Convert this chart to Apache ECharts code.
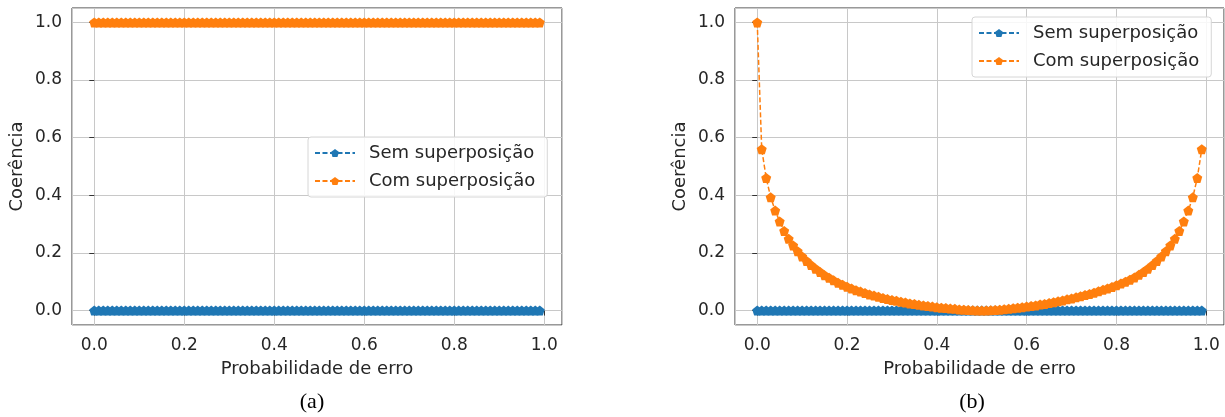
<!DOCTYPE html>
<html>
<head>
<meta charset="utf-8">
<script src="https://cdn.jsdelivr.net/npm/echarts@6/dist/echarts.min.js"></script>
<style>
  html, body { margin: 0; padding: 0; background: #fff; }
  #chart { width: 1225px; height: 417px; }
</style>
</head>
<body>
<div id="chart"></div>
<script>
// probabilidade de erro (eixo x), mesmo para (a) e (b)
const errorProb = [
  0.00, 0.01, 0.02, 0.03, 0.04, 0.05, 0.06, 0.07, 0.08, 0.09,
  0.10, 0.11, 0.12, 0.13, 0.14, 0.15, 0.16, 0.17, 0.18, 0.19,
  0.20, 0.21, 0.22, 0.23, 0.24, 0.25, 0.26, 0.27, 0.28, 0.29,
  0.30, 0.31, 0.32, 0.33, 0.34, 0.35, 0.36, 0.37, 0.38, 0.39,
  0.40, 0.41, 0.42, 0.43, 0.44, 0.45, 0.46, 0.47, 0.48, 0.49,
  0.50, 0.51, 0.52, 0.53, 0.54, 0.55, 0.56, 0.57, 0.58, 0.59,
  0.60, 0.61, 0.62, 0.63, 0.64, 0.65, 0.66, 0.67, 0.68, 0.69,
  0.70, 0.71, 0.72, 0.73, 0.74, 0.75, 0.76, 0.77, 0.78, 0.79,
  0.80, 0.81, 0.82, 0.83, 0.84, 0.85, 0.86, 0.87, 0.88, 0.89,
  0.90, 0.91, 0.92, 0.93, 0.94, 0.95, 0.96, 0.97, 0.98, 0.99
];

// (a)
const semSuperposA = [
  0, 0, 0, 0, 0, 0, 0, 0, 0, 0, 0, 0, 0, 0, 0, 0, 0, 0, 0, 0,
  0, 0, 0, 0, 0, 0, 0, 0, 0, 0, 0, 0, 0, 0, 0, 0, 0, 0, 0, 0,
  0, 0, 0, 0, 0, 0, 0, 0, 0, 0, 0, 0, 0, 0, 0, 0, 0, 0, 0, 0,
  0, 0, 0, 0, 0, 0, 0, 0, 0, 0, 0, 0, 0, 0, 0, 0, 0, 0, 0, 0,
  0, 0, 0, 0, 0, 0, 0, 0, 0, 0, 0, 0, 0, 0, 0, 0, 0, 0, 0, 0
];
const comSuperposA = [
  1, 1, 1, 1, 1, 1, 1, 1, 1, 1, 1, 1, 1, 1, 1, 1, 1, 1, 1, 1,
  1, 1, 1, 1, 1, 1, 1, 1, 1, 1, 1, 1, 1, 1, 1, 1, 1, 1, 1, 1,
  1, 1, 1, 1, 1, 1, 1, 1, 1, 1, 1, 1, 1, 1, 1, 1, 1, 1, 1, 1,
  1, 1, 1, 1, 1, 1, 1, 1, 1, 1, 1, 1, 1, 1, 1, 1, 1, 1, 1, 1,
  1, 1, 1, 1, 1, 1, 1, 1, 1, 1, 1, 1, 1, 1, 1, 1, 1, 1, 1, 1
];

// (b)
const semSuperposB = [
  0, 0, 0, 0, 0, 0, 0, 0, 0, 0, 0, 0, 0, 0, 0, 0, 0, 0, 0, 0,
  0, 0, 0, 0, 0, 0, 0, 0, 0, 0, 0, 0, 0, 0, 0, 0, 0, 0, 0, 0,
  0, 0, 0, 0, 0, 0, 0, 0, 0, 0, 0, 0, 0, 0, 0, 0, 0, 0, 0, 0,
  0, 0, 0, 0, 0, 0, 0, 0, 0, 0, 0, 0, 0, 0, 0, 0, 0, 0, 0, 0,
  0, 0, 0, 0, 0, 0, 0, 0, 0, 0, 0, 0, 0, 0, 0, 0, 0, 0, 0, 0
];
const comSuperposB = [
  1.0, 0.56, 0.46, 0.393, 0.347, 0.309, 0.276, 0.249, 0.226, 0.206,
  0.188, 0.172, 0.158, 0.145, 0.134, 0.123, 0.114, 0.105, 0.097, 0.090,
  0.083, 0.077, 0.071, 0.066, 0.061, 0.056, 0.052, 0.048, 0.044, 0.040,
  0.037, 0.034, 0.031, 0.028, 0.025, 0.023, 0.020, 0.018, 0.016, 0.014,
  0.012, 0.010, 0.009, 0.007, 0.006, 0.004, 0.003, 0.002, 0.001, 0.0005,
  0.0, 0.0005, 0.001, 0.002, 0.003, 0.005, 0.006, 0.008, 0.010, 0.012,
  0.014, 0.016, 0.018, 0.021, 0.023, 0.026, 0.029, 0.032, 0.035, 0.039,
  0.042, 0.046, 0.050, 0.054, 0.058, 0.062, 0.067, 0.072, 0.077, 0.082,
  0.088, 0.094, 0.100, 0.107, 0.115, 0.124, 0.134, 0.145, 0.158, 0.172,
  0.188, 0.206, 0.226, 0.249, 0.276, 0.309, 0.347, 0.393, 0.46, 0.56
];

const tickLabels = ["0.0", "0.2", "0.4", "0.6", "0.8", "1.0"];
const seriesNames = ["Sem superposição", "Com superposição"];
const captions = ["(a)", "(b)"];

const BLUE = "#1f77b4";
const ORANGE = "#ff7f0e";
const TEXT = "#262626";
const FONT = "DejaVu Sans";
const PENTAGON = "path://M50,0 L97.55,34.55 L79.39,90.45 L20.61,90.45 L2.45,34.55 Z";

function pairs(ys) {
  return errorProb.map((x, i) => [x, ys[i]]);
}

function tickFmt(v) {
  const s = v.toFixed(1);
  if (Math.abs(v * 5 - Math.round(v * 5)) > 1e-6) return "";
  return tickLabels.indexOf(s) >= 0 ? s : "";
}

function makeAxis(idx, isX) {
  return {
    type: "value",
    gridIndex: idx,
    min: isX ? -0.0495 : -0.05,
    max: isX ? 1.0395 : 1.05,
    splitNumber: 5,
    name: isX ? "Probabilidade de erro" : "Coerência",
    nameLocation: "middle",
    nameGap: isX ? 35 : 46,
    nameTextStyle: { fontFamily: FONT, fontSize: 18, color: TEXT },
    axisLine: { show: false },
    axisTick: { show: true, inside: false, length: 5, lineStyle: { color: "#333", width: 1 } },
    axisLabel: {
      showMinLabel: false,
      showMaxLabel: false,
      margin: isX ? 12 : 10,
      fontFamily: FONT,
      fontSize: 17,
      color: TEXT,
      formatter: tickFmt
    },
    splitLine: { show: true, lineStyle: { color: "#c8c8c8", width: 1 } }
  };
}

function lineSeries(name, idx, ys, color, z) {
  return {
    name: name,
    type: "line",
    xAxisIndex: idx,
    yAxisIndex: idx,
    data: pairs(ys),
    symbol: PENTAGON,
    symbolSize: 10,
    showSymbol: true,
    z: z,
    lineStyle: { color: color, width: 1.5, type: [5, 2.5] },
    itemStyle: { color: color },
    emphasis: { disabled: true }
  };
}

function legendAt(left, top) {
  return {
    data: seriesNames,
    orient: "vertical",
    left: left,
    top: top,
    padding: [7, 12, 7, 6],
    itemGap: 10,
    itemWidth: 40,
    itemHeight: 10,
    backgroundColor: "rgba(255,255,255,0.85)",
    borderColor: "#d6d6d6",
    borderWidth: 1,
    borderRadius: 3,
    selectedMode: false,
    textStyle: { fontFamily: FONT, fontSize: 18, color: TEXT, padding: [0, 0, 0, 9] }
  };
}

const chart = echarts.init(document.getElementById("chart"), null, { renderer: "canvas" });

const option = {
  animation: false,
  backgroundColor: "#fff",
  grid: [
    { left: 72, top: 8, width: 490, height: 317, show: true, borderColor: "#333", borderWidth: 1, backgroundColor: "transparent" },
    { left: 735, top: 8, width: 489, height: 317, show: true, borderColor: "#333", borderWidth: 1, backgroundColor: "transparent" }
  ],
  xAxis: [makeAxis(0, true), makeAxis(1, true)],
  yAxis: [makeAxis(0, false), makeAxis(1, false)],
  legend: [legendAt(308, 137), legendAt(972, 17)],
  graphic: [
    { type: "text", x: 312, y: 402, style: { text: captions[0], align: "center", verticalAlign: "middle", font: "22px 'Liberation Serif'", fill: "#000" } },
    { type: "text", x: 972, y: 402, style: { text: captions[1], align: "center", verticalAlign: "middle", font: "22px 'Liberation Serif'", fill: "#000" } }
  ],
  series: [
    lineSeries(seriesNames[0], 0, semSuperposA, BLUE, 2),
    lineSeries(seriesNames[1], 0, comSuperposA, ORANGE, 3),
    lineSeries(seriesNames[0], 1, semSuperposB, BLUE, 2),
    lineSeries(seriesNames[1], 1, comSuperposB, ORANGE, 3)
  ]
};

chart.setOption(option);
window.addEventListener("resize", () => chart.resize(), false);
</script>
</body>
</html>
